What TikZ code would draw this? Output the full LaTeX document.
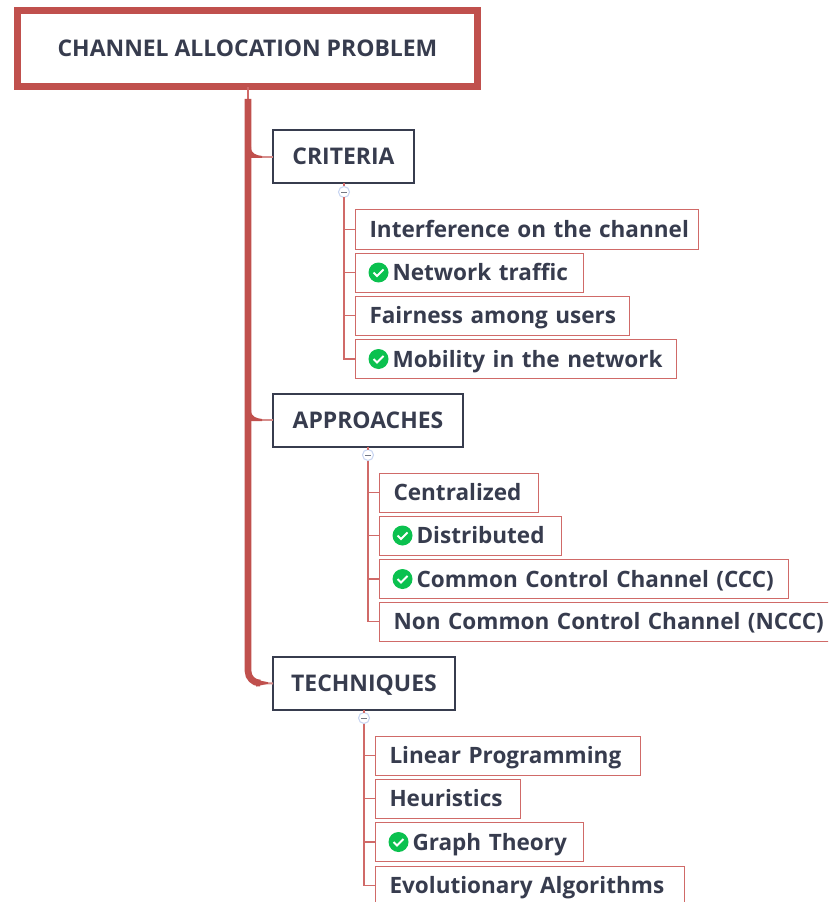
\documentclass[tikz,border=0pt]{standalone}
\usepackage{fontspec}
\setmainfont{Open Sans}
\definecolor{mapred}{HTML}{C0504D}
\definecolor{twigred}{HTML}{D06A68}
\definecolor{inkdark}{HTML}{373C4E}
\definecolor{okgreen}{HTML}{0BC14F}
\definecolor{foldblue}{HTML}{C9D6F2}
\tikzset{
    rootbox/.style={draw=mapred, line width=5.25pt, fill=white, text=inkdark, minimum width=460*0.75pt, minimum height=76*0.75pt, outer sep=0pt, text height=14pt, text depth=2pt, font=\fontsize{17.2}{20}\selectfont\bfseries},
    branchbox/.style={draw=inkdark, line width=1.5pt, text=inkdark, anchor=west, minimum width=#1*0.75pt, minimum height=53*0.75pt, outer sep=0pt, text height=14pt, text depth=2pt, font=\fontsize{17.2}{20}\selectfont\bfseries},
    leafbox/.style={draw=twigred, line width=0.75pt, text=inkdark, anchor=west, inner xsep=10.5pt, text width=(#1-28)*0.75pt, minimum height=39*0.75pt, outer sep=0pt, text height=14pt, text depth=2pt, font=\fontsize{16.9}{20}\selectfont\bfseries, execute at begin node={\hbox to 0pt\bgroup}, execute at end node={\hss\egroup}},
    twig/.style={draw=twigred, line width=1pt},
    limb/.style={draw=mapred!65, line width=1.5pt},
    trunk/.style={draw=mapred, line width=5pt},
    foldmark/.style={circle, draw=foldblue, line width=0.8pt, fill=white, inner sep=0pt, minimum size=11*0.75pt, outer sep=0pt, path picture={\draw[inkdark!70, line width=0.5pt] ([xshift=-2.2pt]path picture bounding box.center) -- ([xshift=2.2pt]path picture bounding box.center);}},
    okmark/.pic={
        \fill[okgreen] (0,0) circle (10);
        \draw[white, line width=1.5pt] (-5,0) -- (-1.5,3.5) -- (5,-3);
    }
}
\newcommand{\oksp}{\hspace*{17.25pt}}
\begin{document}
\begin{tikzpicture}[x=0.75pt, y=-0.75pt]
    \useasboundingbox (0,0) rectangle (828,902);
    \clip (0,0) rectangle (828,902);

    \node[rootbox] (root) at (247.5,49) {CHANNEL ALLOCATION PROBLEM};

    \node[branchbox=141] (crit) at (273,157) {CRITERIA};
    \node[branchbox=190] (appr) at (273,420) {APPROACHES};
    \node[branchbox=182] (tech) at (273,683.5) {TECHNIQUES};

    \node[leafbox=343] (crit-1) at (355.5,229.5) {Interference on the channel};
    \node[leafbox=228] (crit-2) at (355.5,272.5) {\oksp Network traffic};
    \node[leafbox=274] (crit-3) at (355.5,315.5) {Fairness among users};
    \node[leafbox=321] (crit-4) at (355.5,359) {\oksp Mobility in the network};

    \node[leafbox=159] (appr-1) at (379.5,492.5) {Centralized};
    \node[leafbox=182] (appr-2) at (379.5,535.5) {\oksp Distributed};
    \node[leafbox=409] (appr-3) at (379.5,579) {\oksp Common Control Channel (CCC)};
    \node[leafbox=452] (appr-4) at (379.5,621.5) {Non Common Control Channel (NCCC)};

    \node[leafbox=265] (tech-1) at (375.5,755.5) {Linear Programming};
    \node[leafbox=145] (tech-2) at (375.5,798.5) {Heuristics};
    \node[leafbox=208] (tech-3) at (375.5,842) {\oksp Graph Theory};
    \node[leafbox=309] (tech-4) at (375.5,885.5) {Evolutionary Algorithms};

    \node[foldmark] (crit-fold) at (344,192) {};
    \node[foldmark] (appr-fold) at (368,455) {};
    \node[foldmark] (tech-fold) at (364,718) {};

    % main stem
    \coordinate (stem-top) at (248,99);
    \coordinate (stem-crit) at (248,157);
    \coordinate (stem-appr) at (248,420);
    \coordinate (stem-tech) at (256,683);
    \draw[twig] (root.south -| stem-top) -- (stem-top);
    \draw[limb] (stem-crit) -- (crit.west);
    \draw[limb] (stem-appr) -- (appr.west);
    \draw[limb] (stem-tech) -- (tech.west);
    \draw[trunk, rounded corners=9pt] (stem-top) |- (stem-tech);
    \fill[mapred] (stem-crit) ++(3,-10) .. controls +(0,7) and +(-6,-1) .. ++(11,9) -- ++(0,2) -- ++(-11,0) -- cycle;
    \fill[mapred] (stem-appr) ++(3,-10) .. controls +(0,7) and +(-6,-1) .. ++(11,9) -- ++(0,2) -- ++(-11,0) -- cycle;
    \fill[mapred] (stem-tech) ++(0,-3.3) -- ++(12,2.5) -- ++(0,1.6) -- ++(-12,2.5) -- cycle;

    % leaves
    \draw[twig] (crit.south -| crit-fold) -- (crit-fold);
    \draw[twig] (appr.south -| appr-fold) -- (appr-fold);
    \draw[twig] (tech.south -| tech-fold) -- (tech-fold);
    \draw[twig] (crit-fold.south) |- (crit-4.west);
    \draw[twig] (appr-fold.south) |- (appr-4.west);
    \draw[twig] (tech-fold.south) |- (tech-4.west);
    \foreach \n in {1,2,3} {
        \draw[twig] (crit-fold.south |- crit-\n.west) -- (crit-\n.west);
        \draw[twig] (appr-fold.south |- appr-\n.west) -- (appr-\n.west);
        \draw[twig] (tech-fold.south |- tech-\n.west) -- (tech-\n.west);
    }

    \pic at ([xshift=17.25pt]crit-2.west) {okmark};
    \pic at ([xshift=17.25pt]crit-4.west) {okmark};
    \pic at ([xshift=17.25pt]appr-2.west) {okmark};
    \pic at ([xshift=17.25pt]appr-3.west) {okmark};
    \pic at ([xshift=17.25pt]tech-3.west) {okmark};
\end{tikzpicture}
\end{document}
